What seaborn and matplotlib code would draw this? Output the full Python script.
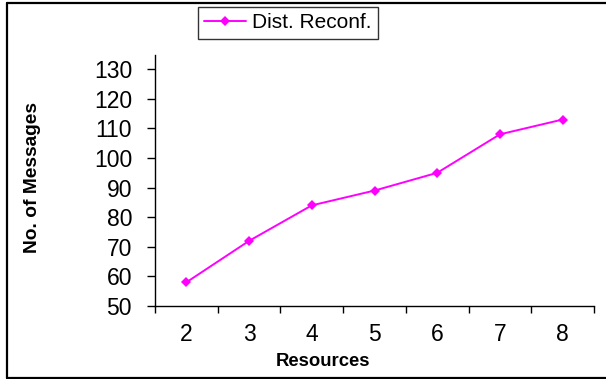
import matplotlib
matplotlib.use("Agg")
import matplotlib.pyplot as plt
import seaborn as sns
import pandas as pd
from matplotlib.lines import Line2D

resources = [2, 3, 4, 5, 6, 7, 8]
messages = [58, 72, 84, 89, 95, 108, 113]
series_name = "Dist. Reconf."
y_ticks = [50, 60, 70, 80, 90, 100, 110, 120, 130]

sns.set_style("white")
plt.rcParams['font.family'] = ['Liberation Sans', 'DejaVu Sans']
plt.rcParams['text.color'] = 'black'
plt.rcParams['axes.labelcolor'] = 'black'
plt.rcParams['xtick.color'] = 'black'
plt.rcParams['ytick.color'] = 'black'

W, H = 606, 379
fig = plt.figure(figsize=(W / 100, H / 100), dpi=100)
ax = fig.add_axes([155 / W, 1 - 306 / H, (594 - 155) / W, (306 - 55) / H])

df = pd.DataFrame({"Resources": resources, "Messages": messages, "Series": series_name})
sns.lineplot(data=df, x="Resources", y="Messages", ax=ax, color="#FF00FF",
             marker="D", markersize=5.5, markeredgewidth=0, linewidth=1.4,
             label=series_name)

ax.set_xlim(resources[0] - 0.5, resources[-1] + 0.5)
ax.set_ylim(50, 134.8)
ax.set_yticks(y_ticks)
ax.set_yticklabels([str(v) for v in y_ticks])
ax.tick_params(axis='y', which='major', direction='out', length=6, width=1,
               colors='black', labelsize=16.5, pad=10.5, left=True)

bounds = [r - 0.5 for r in resources] + [resources[-1] + 0.5]
ax.set_xticks(bounds)
ax.set_xticklabels([])
ax.set_xticks(resources, minor=True)
ax.set_xticklabels([str(r) for r in resources], minor=True)
ax.tick_params(axis='x', which='major', direction='out', length=5, width=1,
               colors='black', bottom=True)
ax.tick_params(axis='x', which='minor', length=0, labelsize=16.5, pad=12,
               labelcolor='black')

for s in ['top', 'right']:
    ax.spines[s].set_visible(False)
for s in ['left', 'bottom']:
    ax.spines[s].set_color('black')
    ax.spines[s].set_linewidth(1)
ax.grid(False)

ax.set_xlabel("Resources", fontsize=13.3, fontweight='bold', va='center', color='black')
ax.xaxis.set_label_coords(323 / W, 1 - 361 / H, transform=fig.transFigure)
ax.set_ylabel("No. of Messages", fontsize=13.8, fontweight='bold', va='center', color='black')
ax.yaxis.set_label_coords(33 / W, 1 - 178 / H, transform=fig.transFigure)

leg = ax.legend(loc='upper left', bbox_to_anchor=(198 / W, 1 - 7 / H),
                bbox_transform=fig.transFigure, frameon=True, fancybox=False,
                edgecolor='black', fontsize=15, borderaxespad=0,
                handlelength=2.0, handletextpad=0.3, borderpad=0.3)
leg.get_frame().set_linewidth(1)
for t in leg.get_texts():
    t.set_color('black')

# outer chart border
fig.add_artist(Line2D([7 / W, 7 / W], [1 - 3 / H, 1 - 377.5 / H], color='black', lw=1.6,
                      transform=fig.transFigure))
fig.add_artist(Line2D([7 / W, 1.01], [1 - 3 / H, 1 - 3 / H], color='black', lw=1.6,
                      transform=fig.transFigure))
fig.add_artist(Line2D([7 / W, 1.01], [1 - 377.5 / H, 1 - 377.5 / H], color='black', lw=1.6,
                      transform=fig.transFigure))

fig.savefig("out.png", dpi=100)
